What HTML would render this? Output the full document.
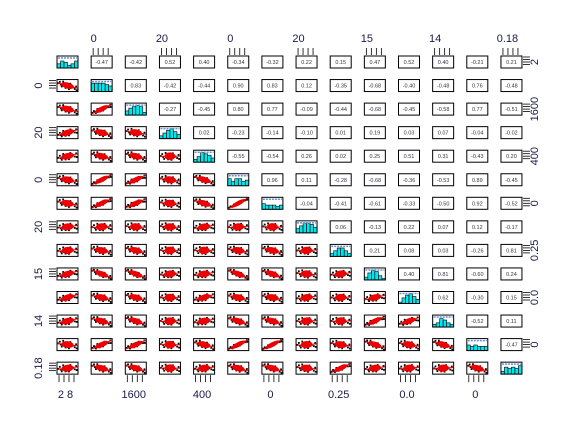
<!DOCTYPE html>
<html><head><meta charset="utf-8"><style>
html,body{margin:0;padding:0;background:#fff;}
svg{display:block;font-family:"Liberation Sans",sans-serif;}
</style></head><body>
<svg id="chart" width="580" height="431" viewBox="0 0 580 431" xmlns="http://www.w3.org/2000/svg"></svg>
<script>
// correlation matrix upper triangle, row by row
const corrRow1=[-0.47,-0.42,0.52,0.40,-0.34,-0.32,0.22,0.15,0.47,0.52,0.40,-0.21,0.21];
const corrRow2=[0.83,-0.42,-0.44,0.90,0.83,0.12,-0.35,-0.68,-0.40,-0.48,0.76,-0.48];
const corrRow3=[-0.27,-0.45,0.80,0.77,-0.09,-0.44,-0.68,-0.45,-0.58,0.77,-0.51];
const corrRow4=[0.02,-0.23,-0.14,-0.10,0.01,0.19,0.03,0.07,-0.04,-0.02];
const corrRow5=[-0.55,-0.54,0.26,0.02,0.25,0.51,0.31,-0.43,0.20];
const corrRow6=[0.96,0.11,-0.28,-0.68,-0.36,-0.53,0.89,-0.45];
const corrRow7=[-0.04,-0.41,-0.61,-0.33,-0.50,0.92,-0.52];
const corrRow8=[0.06,-0.13,0.22,0.07,0.12,-0.17];
const corrRow9=[0.21,0.08,0.03,-0.26,0.81];
const corrRow10=[0.40,0.81,-0.60,0.24];
const corrRow11=[0.62,-0.30,0.15];
const corrRow12=[-0.52,0.11];
const corrRow13=[-0.47];
const corrs=[corrRow1,corrRow2,corrRow3,corrRow4,corrRow5,corrRow6,corrRow7,corrRow8,corrRow9,corrRow10,corrRow11,corrRow12,corrRow13];
const topLabels=["0","20","0","20","15","14","0.18"];
const bottomLabels=["2   8","1600","400","0","0.25","0.0","0"];
const leftLabels=["0","20","0","20","15","14","0.18"];
const rightLabels=["2","1600","400","0","0.25","0.0","0"];
const hists=[[3,5,4,2,3,5],[6,6,6,6,5,4],[3,5,6,7,6,2],[2,4,6,7,5,3],[2,4,7,6,5,3],[5,3,5,5,3,4],[4,3,3,3,2,3],[3,5,7,7,6,4],[2,4,6,6,4,2],[2,5,7,6,3,1],[1,4,6,7,5,3],[2,3,6,5,3,2],[4,3,4,3,3,3],[2,5,4,5,4,6]];
const dotsX=[-1.6,1.5,-1.2,1.8,0.6,-0.4,1.1,-1.9,-0.9,0.3,1.9,-1.4];
const dotsY=[0.9,-0.8,-1.1,0.5,1.2,-1.3,-0.2,0.1,1.4,-1.5,-1.2,-0.3];

const svg=document.getElementById('chart');
const NS="http://www.w3.org/2000/svg";
const X0=57,PX=34.15,Y0=56,PY=23.55,W=21,H=12;
const cx=i=>X0+i*PX, cy=j=>Y0+j*PY;
function mk(tag,attrs,parent){const e=document.createElementNS(NS,tag);for(const k in attrs)e.setAttribute(k,attrs[k]);(parent||svg).appendChild(e);return e;}
function r(i,j){const a=Math.min(i,j),b=Math.max(i,j);return corrs[a][b-a-1];}

for(let j=0;j<14;j++){for(let i=0;i<14;i++){
  const g=mk('g',{});
  const x=cx(i),y=cy(j);
  if(i===j){
    
    
    mk('rect',{x:x,y:y,width:W,height:H,fill:'#fff'},g);
    const h=hists[i],bw=W/h.length;
    h.forEach((v,k)=>{
      const b=mk('rect',{x:x+k*bw,y:y+H-v*1.4,width:bw,height:v*1.4,fill:'#00e5ee',stroke:'#000','stroke-width':0.6},g);
      
      
    });
    mk('line',{x1:x+1,y1:y+2,x2:x+W-1,y2:y+2,stroke:'#6a8fd8','stroke-width':1.5,'stroke-dasharray':'2 1'},g);
  } else if(i>j){
    
    
    mk('rect',{x:x,y:y,width:W,height:H,fill:'#fff'},g);
    const t=mk('text',{x:x+W/2,y:y+H/2+2,'font-size':5.5,'text-anchor':'middle',fill:'#334'},g);
    t.textContent=r(i,j).toFixed(2);
  } else {
    
    
    mk('rect',{x:x,y:y,width:W,height:H,fill:'#fff'},g);
    const rv=r(i,j),mx=x+W/2,my=y+H/2;
    dotsX.forEach((dx,k)=>{
      const yy=rv*dx+Math.sqrt(1-rv*rv)*dotsY[k];
      const d=mk('rect',{x:mx+dx*4.8-0.9,y:Math.max(y,Math.min(y+H-1.8,my-yy*2.4-0.9)),width:1.8,height:1.8,fill:'#000'},g);
      
      
    });
    const ang=-Math.atan(rv*H/W)*180/Math.PI;
    const e=mk('ellipse',{cx:mx,cy:my,rx:5.5+Math.abs(rv)*2.5,ry:3.8-Math.abs(rv)*1.6,fill:'#e00',transform:`rotate(${ang} ${mx} ${my})`},g);
    
    
    const l=mk('line',{x1:x,y1:my+rv*H/2,x2:x+W,y2:my-rv*H/2,stroke:'#e00','stroke-width':1},g);
    
    
  }
  mk('rect',{x:x,y:y,width:W,height:H,fill:'none',stroke:'#000','stroke-width':1},g);
}}

function ticks(x1,y1,dx,dy,horiz){
  for(let k=0;k<4;k++){
    if(horiz) mk('line',{x1:x1+k*dx,y1:y1,x2:x1+k*dx,y2:y1+dy,stroke:'#000','stroke-width':0.8});
    else mk('line',{x1:x1,y1:y1+k*dx,x2:x1+dy,y2:y1+k*dx,stroke:'#000','stroke-width':0.8});
  }
}
const lblColor='#1a1a4a';
topLabels.forEach((s,k)=>{const i=2*k+1;ticks(cx(i)+2,cy(0)-1,5,-7,true);
  const t=mk('text',{x:cx(i)+W/2-8+(s.length>2?4:0),y:42,'font-size':11,'text-anchor':'middle',fill:lblColor});t.textContent=s;
  });
bottomLabels.forEach((s,k)=>{const i=2*k;ticks(cx(i)+2,cy(13)+H+1,5,7,true);
  const t=mk('text',{x:cx(i)+W/2-2,y:398,'font-size':11,'text-anchor':'middle',fill:lblColor,'xml:space':'preserve'});t.textContent=s;
  });
leftLabels.forEach((s,k)=>{const j=2*k+1;ticks(cx(0)-1,cy(j)+1,2.5,-7,false);
  const yy=cy(j)+H/2;const t=mk('text',{x:0,y:0,'font-size':11,'text-anchor':'middle',fill:lblColor,transform:`translate(42 ${yy}) rotate(-90)`});t.textContent=s;
  });
rightLabels.forEach((s,k)=>{const j=2*k;ticks(cx(13)+W+1,cy(j)+1,2.5,7,false);
  const yy=cy(j)+H/2;const t=mk('text',{x:0,y:0,'font-size':11,'text-anchor':'middle',fill:lblColor,transform:`translate(538 ${yy}) rotate(-90)`});t.textContent=s;
  });
</script>
</body></html>
